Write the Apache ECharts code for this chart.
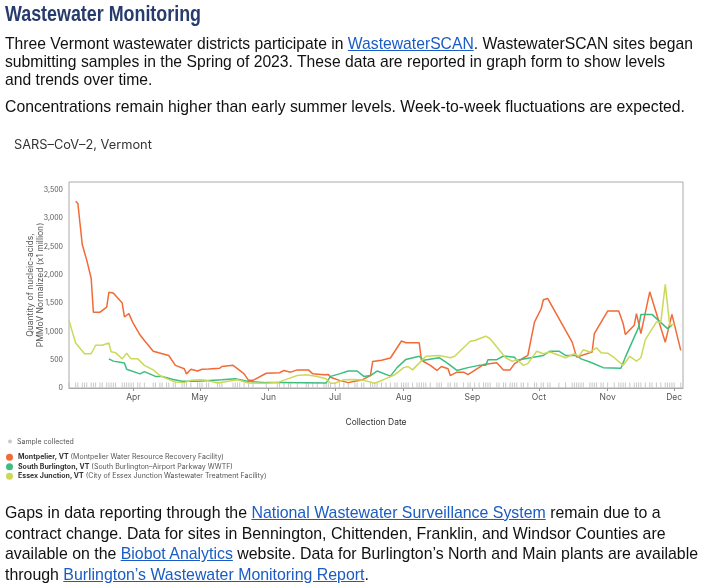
<!DOCTYPE html>
<html>
<head>
<meta charset="utf-8">
<title>Wastewater Monitoring</title>
<script src="https://cdn.jsdelivr.net/npm/echarts@6/dist/echarts.min.js"></script>
<style>
  body { margin: 0; width: 702px; height: 587px; position: relative; overflow: hidden; background: #fff; }
  #chart { position: absolute; left: 0; top: 0; width: 702px; height: 587px; }
  .prose { position: absolute; left: 5px; white-space: nowrap; color: #111; transform-origin: 0 0;
           font-family: "Liberation Sans", Arial, sans-serif; font-size: 17px; }
  .prose a { color: #1a5cc4; text-decoration: underline; }
  #heading { top: 0; line-height: 28px; font-size: 22px; font-weight: bold; color: #273c6c; }
  #intro { top: 35px; line-height: 18px; }
  #note { top: 98px; line-height: 18px; }
  #gaps { top: 503px; line-height: 20.7px; }
</style>
</head>
<body>
<div id="chart"></div>
<div class="prose" id="heading">Wastewater Monitoring</div>
<div class="prose" id="intro">Three Vermont wastewater districts participate in <a>WastewaterSCAN</a>. WastewaterSCAN sites began<br>submitting samples in the Spring of 2023. These data are reported in graph form to show levels<br>and trends over time.</div>
<div class="prose" id="note">Concentrations remain higher than early summer levels. Week-to-week fluctuations are expected.</div>
<div class="prose" id="gaps">Gaps in data reporting through the <a>National Wastewater Surveillance System</a> remain due to a<br>contract change. Data for sites in Bennington, Chittenden, Franklin, and Windsor Counties are<br>available on the <a>Biobot Analytics</a> website. Data for Burlington’s North and Main plants are available<br>through <a>Burlington’s Wastewater Monitoring Report</a>.</div>
<script>
  // month tick labels
  var monthLabels = ['Jan', 'Feb', 'Mar', 'Apr', 'May', 'Jun', 'Jul', 'Aug', 'Sep', 'Oct', 'Nov', 'Dec'];

  var siteNames = ['Montpelier, VT', 'South Burlington, VT', 'Essex Junction, VT'];
  var facilityNames = ['Montpelier Water Resource Recovery Facility', 'South Burlington–Airport Parkway WWTF', 'City of Essex Junction Wastewater Treatment Facility'];
  var siteColors = ['#f26a36', '#3dbd80', '#cbd957'];

  // Montpelier
  var montpelierDates = ['2023-03-06', '2023-03-07', '2023-03-09', '2023-03-11', '2023-03-13', '2023-03-14', '2023-03-17', '2023-03-20', '2023-03-21', '2023-03-23',
    '2023-03-27', '2023-03-28', '2023-03-30', '2023-04-01', '2023-04-04', '2023-04-06', '2023-04-10', '2023-04-17', '2023-04-20', '2023-04-24',
    '2023-04-25', '2023-04-27', '2023-04-30', '2023-05-02', '2023-05-05', '2023-05-10', '2023-05-11', '2023-05-16', '2023-05-19', '2023-05-21',
    '2023-05-23', '2023-05-25', '2023-05-31', '2023-06-06', '2023-06-08', '2023-06-11', '2023-06-14', '2023-06-19', '2023-06-21', '2023-06-26',
    '2023-06-28', '2023-06-29', '2023-07-03', '2023-07-07', '2023-07-10', '2023-07-13', '2023-07-17', '2023-07-18', '2023-07-22', '2023-07-26',
    '2023-07-31', '2023-08-02', '2023-08-08', '2023-08-09', '2023-08-13', '2023-08-16', '2023-08-18', '2023-08-21', '2023-08-22', '2023-08-25',
    '2023-08-28', '2023-08-30', '2023-09-06', '2023-09-12', '2023-09-15', '2023-09-18', '2023-09-20', '2023-09-23', '2023-09-24', '2023-09-26',
    '2023-09-29', '2023-10-02', '2023-10-03', '2023-10-05', '2023-10-16', '2023-10-18', '2023-10-25', '2023-10-26', '2023-11-01', '2023-11-06',
    '2023-11-08', '2023-11-09', '2023-11-13', '2023-11-14', '2023-11-16', '2023-11-20', '2023-11-27', '2023-11-30', '2023-12-04'];
  var montpelierValues = [3300, 3260, 2530, 2260, 1940, 1340, 1340, 1430, 1690, 1680,
    1500, 1255, 1315, 1140, 940, 840, 650, 575, 400, 340,
    250, 330, 300, 330, 335, 350, 380, 400, 310, 250,
    135, 135, 260, 270, 310, 280, 320, 320, 250, 235,
    240, 190, 135, 95, 120, 140, 220, 470, 490, 530,
    830, 800, 800, 490, 400, 310, 380, 340, 220, 280,
    280, 235, 415, 445, 320, 320, 430, 505, 530, 575,
    1165, 1400, 1560, 1580, 810, 545, 635, 960, 1360, 1360,
    1140, 945, 1110, 1315, 960, 1700, 810, 1300, 665];

  // South Burlington
  var southBurlingtonDates = ['2023-03-21', '2023-03-23', '2023-03-28', '2023-03-29', '2023-04-04', '2023-04-06', '2023-04-11', '2023-04-14', '2023-04-19', '2023-04-23',
    '2023-04-30', '2023-05-11', '2023-05-17', '2023-05-23', '2023-05-31', '2023-06-06', '2023-06-27', '2023-06-29', '2023-07-03', '2023-07-07',
    '2023-07-11', '2023-07-14', '2023-07-17', '2023-07-20', '2023-07-26', '2023-07-29', '2023-08-02', '2023-08-08', '2023-08-10', '2023-08-17',
    '2023-08-21', '2023-08-25', '2023-08-30', '2023-09-04', '2023-09-07', '2023-09-08', '2023-09-12', '2023-09-15', '2023-09-20', '2023-09-21',
    '2023-10-03', '2023-10-06', '2023-10-10', '2023-10-13', '2023-10-18', '2023-10-20', '2023-10-24', '2023-10-30', '2023-11-07', '2023-11-09',
    '2023-11-15', '2023-11-16', '2023-11-21', '2023-11-28', '2023-11-30'];
  var southBurlingtonValues = [515, 475, 440, 330, 250, 290, 205, 205, 150, 120,
    120, 145, 165, 115, 95, 95, 90, 205, 250, 300,
    300, 205, 220, 300, 210, 360, 505, 560, 490, 535,
    430, 310, 360, 400, 400, 500, 500, 565, 545, 490,
    575, 650, 650, 575, 575, 515, 460, 360, 350, 545,
    1075, 1300, 1300, 1050, 1110];

  // Essex Junction
  var essexDates = ['2023-03-03', '2023-03-06', '2023-03-10', '2023-03-13', '2023-03-15', '2023-03-18', '2023-03-21', '2023-03-22', '2023-03-24', '2023-03-27',
    '2023-03-29', '2023-03-31', '2023-04-03', '2023-04-06', '2023-04-10', '2023-04-13', '2023-04-16', '2023-04-20', '2023-04-24', '2023-04-27',
    '2023-05-01', '2023-05-04', '2023-05-09', '2023-05-18', '2023-05-23', '2023-05-31', '2023-06-05', '2023-06-10', '2023-06-14', '2023-06-18',
    '2023-06-23', '2023-06-27', '2023-06-29', '2023-07-01', '2023-07-05', '2023-07-10', '2023-07-14', '2023-07-19', '2023-07-24', '2023-07-28',
    '2023-08-01', '2023-08-03', '2023-08-05', '2023-08-07', '2023-08-11', '2023-08-17', '2023-08-22', '2023-08-24', '2023-08-31', '2023-09-02',
    '2023-09-07', '2023-09-09', '2023-09-13', '2023-09-16', '2023-09-19', '2023-09-21', '2023-09-24', '2023-09-26', '2023-09-30', '2023-10-03',
    '2023-10-06', '2023-10-13', '2023-10-17', '2023-10-19', '2023-10-21', '2023-10-24', '2023-10-27', '2023-10-29', '2023-11-01', '2023-11-04',
    '2023-11-08', '2023-11-11', '2023-11-14', '2023-11-16', '2023-11-18', '2023-11-23', '2023-11-25', '2023-11-27', '2023-11-29', '2023-12-01'];
  var essexValues = [1190, 795, 605, 605, 755, 755, 795, 640, 625, 515,
    615, 515, 515, 400, 320, 220, 165, 105, 95, 135,
    145, 135, 90, 145, 90, 85, 95, 165, 220, 235,
    205, 165, 85, 85, 145, 150, 135, 85, 165, 235,
    360, 380, 320, 400, 560, 575, 535, 560, 825, 840,
    915, 870, 675, 535, 470, 505, 400, 430, 650, 605,
    635, 535, 605, 560, 675, 635, 710, 625, 615, 535,
    400, 560, 475, 535, 855, 1165, 1165, 1830, 1110, 1125];

  var siteDates = [montpelierDates, southBurlingtonDates, essexDates];
  var siteValues = [montpelierValues, southBurlingtonValues, essexValues];

  // squeeze the prose blocks to the width they have on the page (no narrow font installed)
  var proseWidths = {heading: 196, intro: 688, note: 680, gaps: 693};
  Object.keys(proseWidths).forEach(function (id) {
    var el = document.getElementById(id);
    var w = el.getBoundingClientRect().width;
    el.style.transform = 'scaleX(' + (proseWidths[id] / w) + ')';
  });

  // every date that has a sample, for the rug along the bottom
  var sampleDates = [];
  siteDates.forEach(function (list) {
    list.forEach(function (d) {
      if (sampleDates.indexOf(d) < 0) sampleDates.push(d);
    });
  });
  sampleDates.sort();

  var myChart = echarts.init(document.getElementById('chart'));

  var lineSeries = siteNames.map(function (name, i) {
    return {
      name: name,
      type: 'line',
      showSymbol: false,
      color: siteColors[i],
      lineStyle: {width: 1.5},
      data: siteDates[i].map(function (d, j) {
        return [d, siteValues[i][j]];
      })
    };
  });

  var option = {
    animation: false,
    textStyle: {fontFamily: 'Inter'},
    title: {
      text: 'SARS–CoV–2, Vermont',
      left: 9,
      top: 134,
      textStyle: {fontSize: 12.8, fontWeight: 'normal', color: '#333'}
    },
    grid: {
      left: 69,
      right: 19,
      top: 182,
      bottom: 199,
      show: true,
      borderColor: '#aaa',
      borderWidth: 1
    },
    legend: [
      {
        data: [{name: 'Sample collected', icon: 'circle'}],
        left: 3,
        top: 433,
        itemWidth: 4,
        itemHeight: 4,
        itemGap: 0,
        textStyle: {fontSize: 7, color: '#555'}
      },
      {
        data: siteNames,
        orient: 'vertical',
        left: 1,
        top: 448,
        icon: 'circle',
        itemWidth: 7,
        itemHeight: 7,
        itemGap: 1,
        formatter: function (name) {
          return '{b|' + name + '} (' + facilityNames[siteNames.indexOf(name)] + ')';
        },
        textStyle: {
          fontSize: 7,
          color: '#555',
          lineHeight: 8.5,
          rich: {b: {fontSize: 7, fontWeight: 'bold', color: '#333'}}
        }
      }
    ],
    xAxis: {
      type: 'time',
      min: '2023-03-03',
      max: '2023-12-05',
      minInterval: 28 * 24 * 3600 * 1000,
      name: 'Collection Date',
      nameLocation: 'middle',
      nameGap: 30,
      nameTextStyle: {fontSize: 8.5, color: '#333'},
      axisLine: {show: true, lineStyle: {color: '#aaa'}},
      axisTick: {show: true, length: 3, lineStyle: {color: '#999'}},
      splitLine: {show: false},
      axisLabel: {
        fontSize: 8.5,
        color: '#555',
        margin: 5,
        formatter: function (v) {
          var d = new Date(v);
          return d.getDate() === 1 ? monthLabels[d.getMonth()] : '';
        }
      }
    },
    yAxis: {
      type: 'value',
      min: 0,
      max: 3640,
      interval: 500,
      name: 'Quantity of nucleic-acids,\nPMMoV Normalized (x1 million)',
      nameLocation: 'middle',
      nameGap: 24,
      nameMoveOverlap: false,
      nameTextStyle: {fontSize: 8.5, color: '#555', lineHeight: 10},
      axisLine: {show: false},
      axisTick: {show: false},
      splitLine: {show: false},
      axisLabel: {
        fontSize: 7,
        color: '#555',
        margin: 6,
        showMaxLabel: false,
        formatter: function (v) {
          return v.toLocaleString('en-US');
        }
      }
    },
    series: lineSeries.concat([
      {
        name: 'Sample collected',
        type: 'scatter',
        color: '#bbb',
        symbol: 'rect',
        symbolSize: [1, 5],
        symbolOffset: [0, -3],
        silent: true,
        z: 1,
        data: sampleDates.map(function (d) {
          return [d, 0];
        })
      }
    ])
  };

  myChart.setOption(option, true);
</script>
</body>
</html>
